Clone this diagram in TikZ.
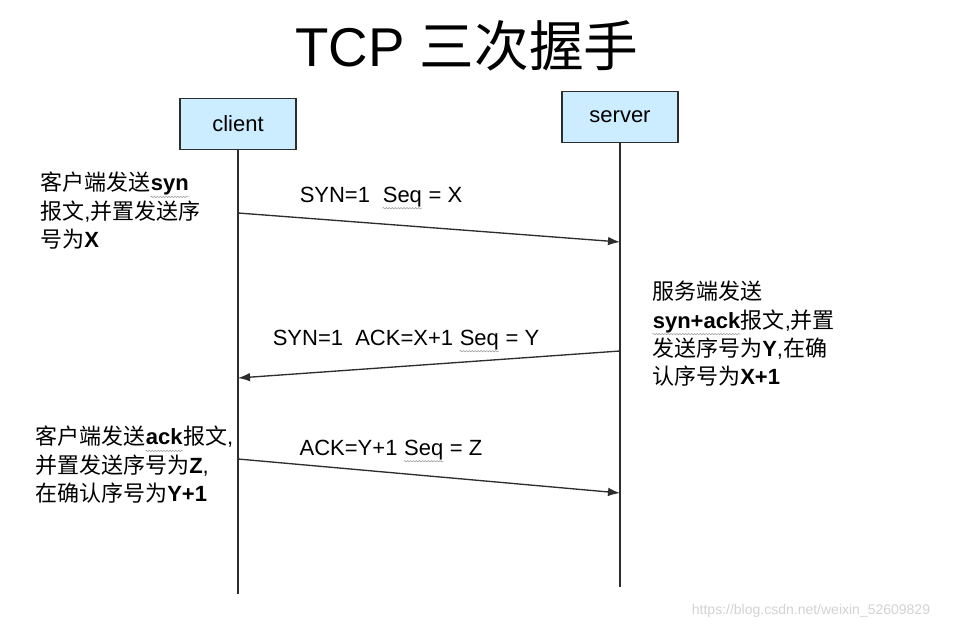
\documentclass[tikz,border=0pt]{standalone}
\usepackage{fontspec}
\setmainfont{Liberation Sans}
\newfontfamily\cjk{Noto Sans CJK SC}
\usetikzlibrary{arrows.meta,decorations.pathmorphing}

\definecolor{boxblue}{RGB}{204,236,255}
\definecolor{linegray}{RGB}{45,45,45}

\newcommand{\zh}[1]{{\cjk #1}}
\newcommand{\en}[1]{\textbf{#1}}
\newcommand{\squig}[1]{\tikz[baseline=(sq.base)]{\node[inner sep=0pt] (sq) {#1};
  \draw[gray!80, line width=0.4pt, decorate, decoration={snake, amplitude=0.5pt, segment length=2.2pt}] ([yshift=-4.5pt]sq.base west) -- ([yshift=-4.5pt]sq.base east);}}

\tikzstyle{role} = [rectangle, draw=linegray, fill=boxblue, line width=1pt, minimum width=87pt, minimum height=38pt, inner sep=0pt, font=\fontsize{16.5}{20}\selectfont]
\tikzstyle{note} = [anchor=north west, align=left, inner sep=0pt, font=\fontsize{16.5}{21.2}\selectfont]
\tikzstyle{tag} = [inner sep=0pt, font=\fontsize{16.5}{20}\selectfont]
\tikzstyle{msg} = [-{Latex[length=9pt,width=6.5pt]}, draw=linegray, line width=1pt]
\tikzstyle{life} = [draw=linegray, line width=1.3pt]

\begin{document}
\begin{tikzpicture}[x=0.75pt,y=-0.75pt]
\useasboundingbox (0,0) rectangle (956,631);

\node[inner sep=0pt, font=\fontsize{41}{45}\selectfont] (Title) at (467,46) {TCP \zh{三次握手}};

\node[role] (Client) at (238,124) {client};
\node[role] (Server) at (620,117) {server};
\coordinate (ClientEnd) at (238,594);
\coordinate (ServerEnd) at (620,587);
\draw[life] (Client) -- (ClientEnd);
\draw[life] (Server) -- (ServerEnd);

% first handshake
\coordinate (SynOut) at (238,213);
\coordinate (SynIn) at (620,242);
\draw[msg] (SynOut) -- (SynIn);
\node[tag] (SynLabel) at (381,198) {SYN=1\ \ \squig{Seq} = X};
\node[note] (SynNote) at (40,172) {\zh{客户端发送}\en{\squig{syn}}\\\zh{报文},\zh{并置发送序}\\\zh{号为}\en{X}};

% second handshake
\coordinate (SynAckOut) at (620,351);
\coordinate (SynAckIn) at (238,378);
\draw[msg] (SynAckOut) -- (SynAckIn);
\node[tag] (SynAckLabel) at (406,341) {SYN=1\ \ ACK=X+1 \squig{Seq} = Y};
\node[note] (SynAckNote) at (652,281) {\zh{服务端发送}\\\en{\squig{syn+ack}}\zh{报文},\zh{并置}\\\zh{发送序号为}\en{Y},\zh{在确}\\\zh{认序号为}\en{X+1}};

% third handshake
\coordinate (AckOut) at (238,459);
\coordinate (AckIn) at (620,493);
\draw[msg] (AckOut) -- (AckIn);
\node[tag] (AckLabel) at (391,451) {ACK=Y+1 \squig{Seq} = Z};
\node[note] (AckNote) at (35,426) {\zh{客户端发送}\en{\squig{ack}}\zh{报文},\\\zh{并置发送序号为}\en{Z},\\\zh{在确认序号为}\en{Y+1}};

\node[inner sep=0pt, text=gray!35, font=\fontsize{10.5}{12}\selectfont] (Mark) at (811,611) {https://blog.csdn.net/weixin\_52609829};
\end{tikzpicture}
\end{document}
